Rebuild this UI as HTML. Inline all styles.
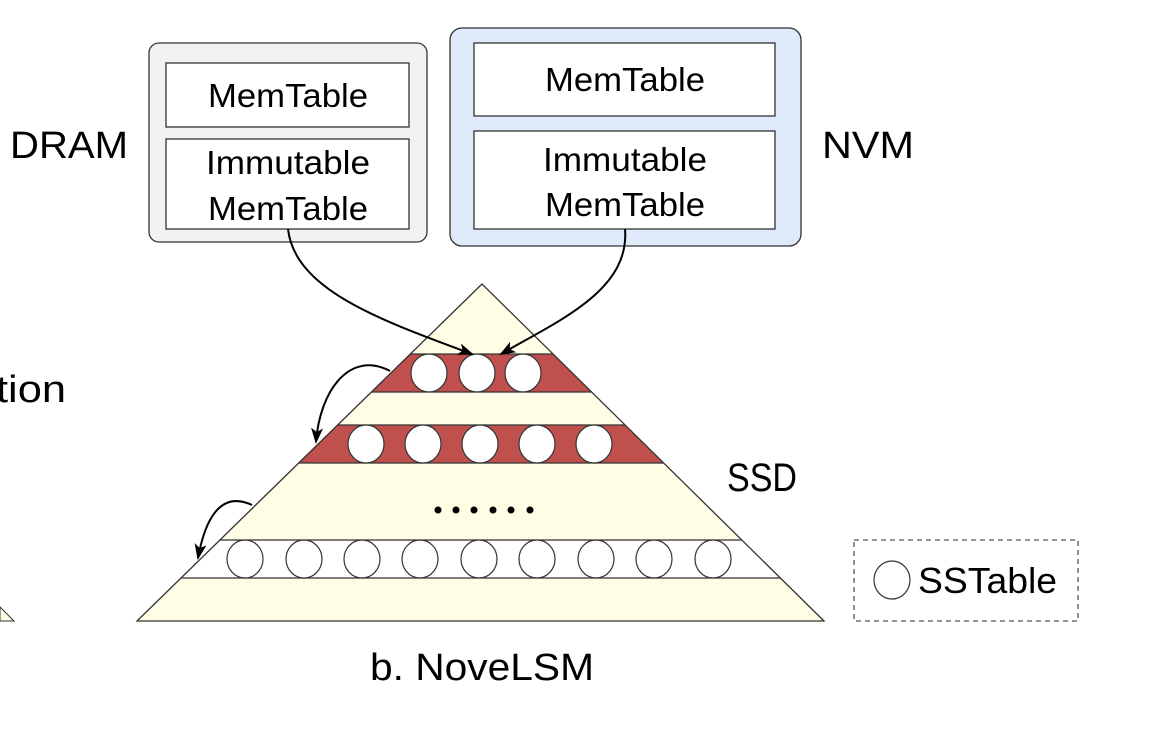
<!DOCTYPE html>
<html><head><meta charset="utf-8"><style>
body{margin:0;background:#fff;}
svg text{font-family:"Liberation Sans","DejaVu Sans",sans-serif;fill:#000;}
</style></head><body>
<svg width="1172" height="724" viewBox="0 0 1172 724" xmlns="http://www.w3.org/2000/svg">
<defs>
<marker id="ah" markerWidth="16" markerHeight="12" refX="14" refY="6" orient="auto" markerUnits="userSpaceOnUse" viewBox="0 0 16 12">
<path d="M0,0 L16,6 L0,12 L4,6 z" fill="#000"/></marker>
<clipPath id="tri"><polygon points="482,284 137,621 824,621"/></clipPath>
</defs>
<rect x="149" y="43" width="278" height="199" rx="10" fill="#f2f2f2" stroke="#333" stroke-width="1.3"/>
<rect x="166" y="63" width="243" height="64" fill="#fff" stroke="#333" stroke-width="1.3"/>
<rect x="166" y="139" width="243" height="90" fill="#fff" stroke="#333" stroke-width="1.3"/>
<text x="288" y="107" font-size="33" text-anchor="middle" textLength="160" lengthAdjust="spacingAndGlyphs">MemTable</text>
<text x="288" y="174" font-size="33" text-anchor="middle" textLength="164" lengthAdjust="spacingAndGlyphs">Immutable</text>
<text x="288" y="220" font-size="33" text-anchor="middle" textLength="160" lengthAdjust="spacingAndGlyphs">MemTable</text>
<rect x="450" y="28" width="351" height="218" rx="12" fill="#dfeafa" stroke="#333" stroke-width="1.3"/>
<rect x="474" y="43" width="301" height="73" fill="#fff" stroke="#333" stroke-width="1.3"/>
<rect x="474" y="131" width="301" height="98" fill="#fff" stroke="#333" stroke-width="1.3"/>
<text x="625" y="91" font-size="33" text-anchor="middle" textLength="160" lengthAdjust="spacingAndGlyphs">MemTable</text>
<text x="625" y="171" font-size="33" text-anchor="middle" textLength="164" lengthAdjust="spacingAndGlyphs">Immutable</text>
<text x="625" y="216" font-size="33" text-anchor="middle" textLength="160" lengthAdjust="spacingAndGlyphs">MemTable</text>
<text x="10" y="158" font-size="38" textLength="118" lengthAdjust="spacingAndGlyphs">DRAM</text>
<text x="822" y="158" font-size="38" textLength="92" lengthAdjust="spacingAndGlyphs">NVM</text>
<text x="-4" y="402" font-size="38" textLength="70" lengthAdjust="spacingAndGlyphs">tion</text>
<polygon points="0,607 14,621 0,621" fill="#fffde6" stroke="#333" stroke-width="1"/>
<polygon points="482,284 137,621 824,621" fill="#fffde6"/>
<g clip-path="url(#tri)">
<rect x="100" y="354" width="800" height="38" fill="#c0504d"/>
<rect x="100" y="425" width="800" height="38" fill="#c0504d"/>
<rect x="100" y="540" width="800" height="38" fill="#fff"/>
<g stroke="#333" stroke-width="1.3">
<line x1="100" y1="354" x2="900" y2="354"/><line x1="100" y1="392" x2="900" y2="392"/>
<line x1="100" y1="425" x2="900" y2="425"/><line x1="100" y1="463" x2="900" y2="463"/>
<line x1="100" y1="540" x2="900" y2="540"/><line x1="100" y1="578" x2="900" y2="578"/>
</g>
</g>
<polygon points="482,284 137,621 824,621" fill="none" stroke="#333" stroke-width="1.3"/>
<g fill="#fff" stroke="#333" stroke-width="1.2">
<ellipse cx="429" cy="373" rx="18" ry="19"/><ellipse cx="477" cy="373" rx="18" ry="19"/><ellipse cx="523" cy="373" rx="18" ry="19"/>
<ellipse cx="366" cy="444" rx="18" ry="19"/><ellipse cx="423" cy="444" rx="18" ry="19"/><ellipse cx="480" cy="444" rx="18" ry="19"/><ellipse cx="537" cy="444" rx="18" ry="19"/><ellipse cx="594" cy="444" rx="18" ry="19"/>
<ellipse cx="245" cy="559" rx="18" ry="19"/><ellipse cx="304" cy="559" rx="18" ry="19"/><ellipse cx="362" cy="559" rx="18" ry="19"/><ellipse cx="420" cy="559" rx="18" ry="19"/><ellipse cx="479" cy="559" rx="18" ry="19"/><ellipse cx="537" cy="559" rx="18" ry="19"/><ellipse cx="596" cy="559" rx="18" ry="19"/><ellipse cx="654" cy="559" rx="18" ry="19"/><ellipse cx="713" cy="559" rx="18" ry="19"/>
</g>
<g fill="#000"><circle cx="438" cy="510" r="3.5"/><circle cx="456" cy="510" r="3.5"/><circle cx="474" cy="510" r="3.5"/><circle cx="493" cy="510" r="3.5"/><circle cx="511" cy="510" r="3.5"/><circle cx="530" cy="510" r="3.5"/></g>
<g fill="none" stroke="#000" stroke-width="2" marker-end="url(#ah)">
<path d="M288,229 C295,290 380,320 472,354"/>
<path d="M625,229 C630,290 560,320 501,354"/>
<path d="M390,371 C350,350 320,390 316,442"/>
<path d="M252,505 C220,490 205,520 198,558"/>
</g>
<text x="727" y="491" font-size="40" textLength="70" lengthAdjust="spacingAndGlyphs">SSD</text>
<text x="370" y="680" font-size="38" textLength="224" lengthAdjust="spacingAndGlyphs">b. NoveLSM</text>
<rect x="854" y="540" width="224" height="81" fill="none" stroke="#555" stroke-width="1.3" stroke-dasharray="5,4"/>
<ellipse cx="892" cy="580" rx="18" ry="19" fill="#fff" stroke="#333" stroke-width="1.2"/>
<text x="918" y="593" font-size="36" textLength="139" lengthAdjust="spacingAndGlyphs">SSTable</text>
</svg>
</body></html>
